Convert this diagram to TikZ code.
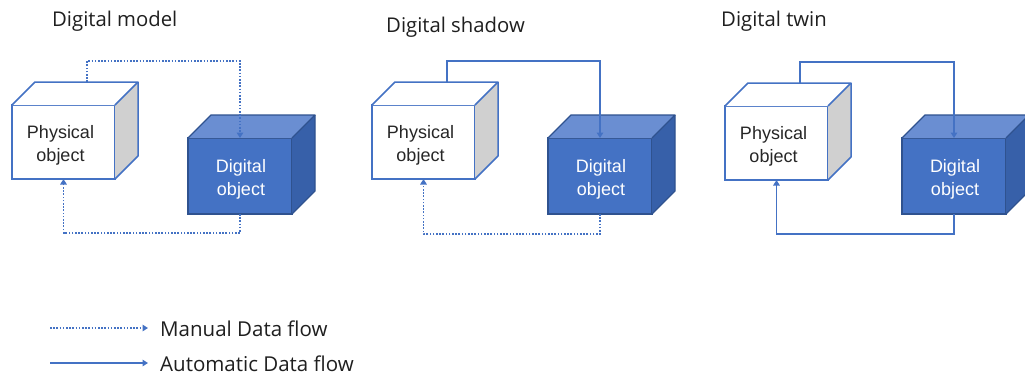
\documentclass[tikz,border=0pt]{standalone}
\usepackage{fontspec}
\setmainfont{Liberation Sans}
\newfontfamily\headfont{Open Sans}
\usetikzlibrary{arrows.meta,calc}
\definecolor{oblue}{HTML}{4472C4}
\definecolor{otop}{HTML}{6A8ED2}
\definecolor{oside}{HTML}{3760A9}
\definecolor{oedge}{HTML}{2F528F}
\definecolor{ogray}{HTML}{D0D0D0}
\definecolor{otext}{HTML}{262626}
\begin{document}
\begin{tikzpicture}[x=1pt,y=-1pt,
  phys/.style={draw=oblue, line width=1.5pt, fill=white, minimum width=103pt, minimum height=74pt,
    inner sep=0pt, outer sep=0pt},
  digi/.style={draw=oedge, line width=1.3pt, fill=oblue, minimum width=104pt, minimum height=76pt,
    inner sep=0pt, outer sep=0pt},
  phystext/.style={align=center, font=\fontsize{18}{23}\selectfont, text=otext, inner sep=0pt},
  digitext/.style={align=center, font=\fontsize{18}{23}\selectfont, text=white, inner sep=0pt},
  physface/.style={draw=oblue, line width=1.5pt, line join=round},
  digiface/.style={draw=oedge, line width=1.3pt, line join=round},
  flow/.style={draw=oblue, line width=1.5pt, -{Triangle[width=6.5pt,length=5.5pt]}},
  manual/.style={flow, dash pattern=on 1.6pt off 1.6pt},
  title/.style={anchor=base west, font=\headfont\fontsize{20.3}{24}\selectfont, text=black!88, inner sep=0pt},
  legend/.style={anchor=base west, font=\headfont\fontsize{20.5}{24}\selectfont, text=black!88, inner sep=0pt}]
\useasboundingbox (0,0) rectangle (1025,376);
\clip (0,0) rectangle (1025,376);
\fill[white] (0,0) rectangle (1025,376);

% titles
\node[title] (t1) at (52,26) {Digital model};
\node[title] (t2) at (386,32) {Digital shadow};
\node[title] (t3) at (721,26) {Digital twin};

% cubes
\foreach \n/\px/\py/\dx/\dy in {1/63.5/142/240/176, 2/423.5/142/600/176, 3/776.5/143/954/176}{
  \node[phys] (p\n) at (\px,\py) {};
  \fill[white] (p\n.north west) -- ++(23,-23) -- ($(p\n.north east)+(23,-23)$) -- (p\n.north east) -- cycle;
  \fill[ogray] (p\n.north east) -- ++(23,-23) -- ($(p\n.south east)+(23,-23)$) -- (p\n.south east) -- cycle;
  \draw[physface] (p\n.north west) -- ++(23,-23) -- ($(p\n.north east)+(23,-23)$) -- (p\n.north east);
  \draw[physface] ($(p\n.north east)+(23,-23)$) -- ($(p\n.south east)+(23,-23)$) -- (p\n.south east);
  \node[phystext] (pt\n) at ($(p\n.center)+(-3,3)$) {Physical\\object};
  \node[digi] (d\n) at (\dx,\dy) {};
  \fill[otop] (d\n.north west) -- ++(23,-23) -- ($(d\n.north east)+(23,-23)$) -- (d\n.north east) -- cycle;
  \fill[oside] (d\n.north east) -- ++(23,-23) -- ($(d\n.south east)+(23,-23)$) -- (d\n.south east) -- cycle;
  \draw[digiface] (d\n.north west) -- ++(23,-23) -- ($(d\n.north east)+(23,-23)$) -- (d\n.north east);
  \draw[digiface] ($(d\n.north east)+(23,-23)$) -- ($(d\n.south east)+(23,-23)$) -- (d\n.south east);
  \node[digitext] (dt\n) at ($(d\n.center)+(1,3)$) {Digital\\object};
}

% connectors
\draw[manual] ($(p1.north)+(23.5,-23)$) -- ++(0,-21) -| (d1.north);
\draw[manual] (d1.south) -- ++(0,19) -| (p1.south);
\draw[flow] ($(p2.north)+(23.5,-23)$) -- ++(0,-21) -| (d2.north);
\draw[manual] (d2.south) -- ++(0,20) -| (p2.south);
\draw[flow] ($(p3.north)+(23.5,-23)$) -- ++(0,-21) -| (d3.north);
\draw[flow] (d3.south) -- ++(0,20) -| (p3.south);

% legend
\coordinate (m0) at (50,328);
\coordinate (m1) at (148,328);
\coordinate (a0) at (50,363);
\coordinate (a1) at (148,363);
\draw[manual] (m0) -- (m1);
\draw[flow] (a0) -- (a1);
\node[legend] (lm) at (160,336) {Manual Data flow};
\node[legend] (la) at (160,371) {Automatic Data flow};
\end{tikzpicture}
\end{document}
